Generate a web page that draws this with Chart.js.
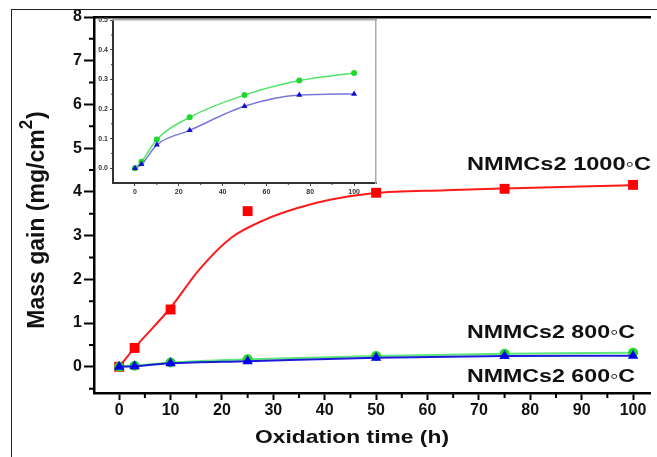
<!DOCTYPE html>
<html>
<head>
<meta charset="utf-8">
<script src="https://cdn.jsdelivr.net/npm/chart.js@4.4.0/dist/chart.umd.min.js"></script>
<style>
body{margin:0;background:#fff;}
#wrap{position:relative;width:657px;height:457px;overflow:hidden;background:#fff;}
#frame{position:absolute;left:11px;top:9px;width:700px;height:500px;border-left:1px solid #222;border-top:1px solid #222;}
#main{position:absolute;left:0;top:0;}
#inset{position:absolute;left:90px;top:14px;}
</style>
</head>
<body>
<div id="wrap">
  <div id="frame"></div>
  <canvas id="main" width="657" height="457"></canvas>
  <canvas id="inset" width="292" height="190"></canvas>
</div>
<script>
// oxidation times (h)
var hours = [0, 3, 10, 25, 50, 75, 100];
// mass gain mg/cm2
var gain800 = [0, 0.022, 0.097, 0.172, 0.247, 0.296, 0.322];
var gain600 = [0, 0.013, 0.079, 0.128, 0.209, 0.247, 0.251];
var gain1000 = [0, 0.43, 1.31, 3.56, 3.98, 4.07, 4.16];
// fitted 1000C curve
var fitHours1000 = [0, 3, 10, 15.5, 21.8, 28.3, 34.7, 41, 49.4, 63.5, 75, 100];
var fitGain1000 = [0, 0.43, 1.35, 2.21, 2.95, 3.36, 3.63, 3.82, 3.97, 4.04, 4.08, 4.15];

var xTicksMain = [0, 10, 20, 30, 40, 50, 60, 70, 80, 90, 100];
var yTicksMain = [0, 1, 2, 3, 4, 5, 6, 7, 8];
var xMinorMain = [5, 15, 25, 35, 45, 55, 65, 75, 85, 95];
var yMinorMain = [-0.5, 0.5, 1.5, 2.5, 3.5, 4.5, 5.5, 6.5, 7.5];
var xTicksInset = [0, 20, 40, 60, 80, 100];
var yTicksInset = [0, 0.1, 0.2, 0.3, 0.4, 0.5];
var xMinorInset = [10, 30, 50, 70, 90];
var yMinorInset = [0.05, 0.15, 0.25, 0.35, 0.45];

function pts(xs, ys) {
    var out = [];
    for (var i = 0; i < xs.length; i++) out.push({x: xs[i], y: ys[i]});
    return out;
}
function fixTicks(vals) {
    return function(s) { s.ticks = vals.map(function(v) { return {value: v}; }); };
}

var FONT = "'Liberation Sans', Arial, sans-serif";

var minorTicks = {
    id: 'minorTicks',
    afterDraw: function(chart, args, opts) {
        var ctx = chart.ctx;
        ctx.save();
        ctx.strokeStyle = opts.color;
        ctx.lineWidth = opts.width;
        var xs = chart.scales.x, ys = chart.scales.y;
        ctx.beginPath();
        opts.x.forEach(function(v) {
            var p = xs.getPixelForValue(v);
            ctx.moveTo(p, xs.top);
            ctx.lineTo(p, xs.top + opts.len);
        });
        opts.y.forEach(function(v) {
            var p = ys.getPixelForValue(v);
            ctx.moveTo(ys.right, p);
            ctx.lineTo(ys.right - opts.len, p);
        });
        ctx.stroke();
        ctx.restore();
    }
};

// text in the figure is stretched sideways, so draw it scaled to a target width
function wideText(ctx, txt, x, y, size, width) {
    ctx.font = "bold " + size + "px " + FONT;
    var w = ctx.measureText(txt).width;
    ctx.save();
    ctx.translate(x, y);
    ctx.scale(width / w, 1);
    ctx.fillText(txt, 0, 0);
    ctx.restore();
}

var textBits = {
    id: 'textBits',
    afterDraw: function(chart) {
        var ctx = chart.ctx;
        ctx.save();
        ctx.fillStyle = '#111';
        ctx.textBaseline = 'middle';
        ctx.textAlign = 'left';
        wideText(ctx, 'NMMCs2 1000\u25E6C', 467, 165, 18.5, 184);
        wideText(ctx, 'NMMCs2 800\u25E6C', 467, 333, 18.5, 168);
        wideText(ctx, 'NMMCs2 600\u25E6C', 467, 377, 18.5, 168);
        ctx.textAlign = 'center';
        wideText(ctx, 'Oxidation time (h)', 352, 438, 19, 194);
        // y title with superscript
        ctx.save();
        ctx.translate(36, 220);
        ctx.rotate(-Math.PI / 2);
        ctx.scale(1, 1.05);
        ctx.textAlign = 'left';
        ctx.textBaseline = 'alphabetic';
        var main = 'Mass gain (mg/cm', sup = '2', end = ')';
        ctx.font = "bold 23px " + FONT;
        var w1 = ctx.measureText(main).width, w3 = ctx.measureText(end).width;
        ctx.font = "bold 17px " + FONT;
        var w2 = ctx.measureText(sup).width;
        var x0 = -(w1 + w2 + w3 + 1) / 2;
        ctx.font = "bold 23px " + FONT;
        ctx.fillText(main, x0, 8);
        ctx.font = "bold 17px " + FONT;
        ctx.fillText(sup, x0 + w1, -4);
        ctx.font = "bold 23px " + FONT;
        ctx.fillText(end, x0 + w1 + w2 + 1, 8);
        ctx.restore();
        ctx.restore();
    }
};

new Chart(document.getElementById('main'), {
    type: 'scatter',
    data: {
        datasets: [
            {data: pts(hours, gain600), showLine: true, borderColor: '#1a1ad8', borderWidth: 2,
             pointStyle: 'triangle', pointRadius: 6, backgroundColor: '#0000ee', pointBorderWidth: 0,
             cubicInterpolationMode: 'monotone'},
            {data: pts(hours, gain800), showLine: true, borderColor: '#5ee878', borderWidth: 2,
             pointStyle: 'circle', pointRadius: 5, backgroundColor: '#1fd82a', pointBorderWidth: 0,
             cubicInterpolationMode: 'monotone'},
            {data: pts(hours, gain1000), showLine: false,
             pointStyle: 'rect', pointRadius: 7, backgroundColor: '#ff0000', pointBorderWidth: 0},
            {data: pts(fitHours1000, fitGain1000), showLine: true, borderColor: '#ff1a1a', borderWidth: 2,
             pointRadius: 0, cubicInterpolationMode: 'monotone'}
        ]
    },
    options: {
        responsive: false,
        animation: false,
        layout: {padding: {top: 17, right: 0, left: 0, bottom: 0}},
        plugins: {legend: {display: false}, tooltip: {enabled: false},
                  minorTicks: {x: xMinorMain, y: yMinorMain, len: 5, width: 2, color: '#000'}},
        scales: {
            x: {
                type: 'linear', min: -4.9, max: 103.3,
                afterBuildTicks: fixTicks(xTicksMain),
                afterFit: function(s) { s.height = 64; },
                border: {color: '#000', width: 2.5},
                grid: {drawOnChartArea: false, tickLength: 7, tickWidth: 2, tickColor: '#000'},
                ticks: {color: '#111', padding: 1, maxRotation: 0, autoSkip: false,
                        font: {family: FONT, size: 16, weight: 'bold'}}
            },
            y: {
                type: 'linear', min: -0.6, max: 8,
                afterBuildTicks: fixTicks(yTicksMain),
                afterFit: function(s) { s.width = 94; },
                border: {color: '#000', width: 2.5},
                grid: {drawOnChartArea: false, tickLength: 10, tickWidth: 2, tickColor: '#000'},
                ticks: {color: '#111', padding: 2, autoSkip: false,
                        font: {family: FONT, size: 16, weight: 'bold'}}
            },
            xTop: {
                type: 'linear', position: 'top', min: -4.9, max: 103.3,
                afterFit: function(s) { s.height = 0; },
                border: {color: '#000', width: 2.5},
                grid: {display: false}, ticks: {display: false}
            }
        }
    },
    plugins: [minorTicks, textBits]
});

var IFONT = {family: FONT, size: 7, weight: 'bold'};

new Chart(document.getElementById('inset'), {
    type: 'scatter',
    data: {
        datasets: [
            {data: pts(hours, gain600), showLine: true, borderColor: '#7676dc', borderWidth: 1.5,
             pointStyle: 'triangle', pointRadius: 3.5, backgroundColor: '#1010c8', pointBorderWidth: 0,
             cubicInterpolationMode: 'monotone'},
            {data: pts(hours, gain800), showLine: true, borderColor: '#4fe46a', borderWidth: 1.5,
             pointStyle: 'circle', pointRadius: 3, backgroundColor: '#1ed82e', pointBorderWidth: 0,
             cubicInterpolationMode: 'monotone'}
        ]
    },
    options: {
        responsive: false,
        animation: false,
        layout: {padding: {top: 6, right: 6, left: 0, bottom: 0}},
        plugins: {legend: {display: false}, tooltip: {enabled: false},
                  minorTicks: {x: xMinorInset, y: yMinorInset, len: 2, width: 1, color: '#444'}},
        scales: {
            x: {
                type: 'linear', min: -10, max: 110,
                afterBuildTicks: fixTicks(xTicksInset),
                afterFit: function(s) { s.height = 21; },
                border: {color: '#333', width: 2},
                grid: {drawOnChartArea: false, tickLength: 3, tickWidth: 1, tickColor: '#444'},
                ticks: {color: '#333', padding: 2, maxRotation: 0, autoSkip: false, font: IFONT}
            },
            y: {
                type: 'linear', min: -0.05, max: 0.5,
                afterBuildTicks: fixTicks(yTicksInset),
                afterFit: function(s) { s.width = 23; },
                border: {color: '#333', width: 2},
                grid: {drawOnChartArea: false, tickLength: 3, tickWidth: 1, tickColor: '#444'},
                ticks: {color: '#333', padding: 2, autoSkip: false, font: IFONT,
                        callback: function(v) { return v.toFixed(1); }}
            },
            xTop: {
                type: 'linear', position: 'top', min: -10, max: 110,
                afterFit: function(s) { s.height = 0; },
                border: {color: '#aaa', width: 1.5},
                grid: {display: false}, ticks: {display: false}
            },
            yRight: {
                type: 'linear', position: 'right', min: -0.05, max: 0.5,
                afterFit: function(s) { s.width = 0; },
                border: {color: '#aaa', width: 1.5},
                grid: {display: false}, ticks: {display: false}
            }
        }
    },
    plugins: [minorTicks]
});
</script>
</body>
</html>
